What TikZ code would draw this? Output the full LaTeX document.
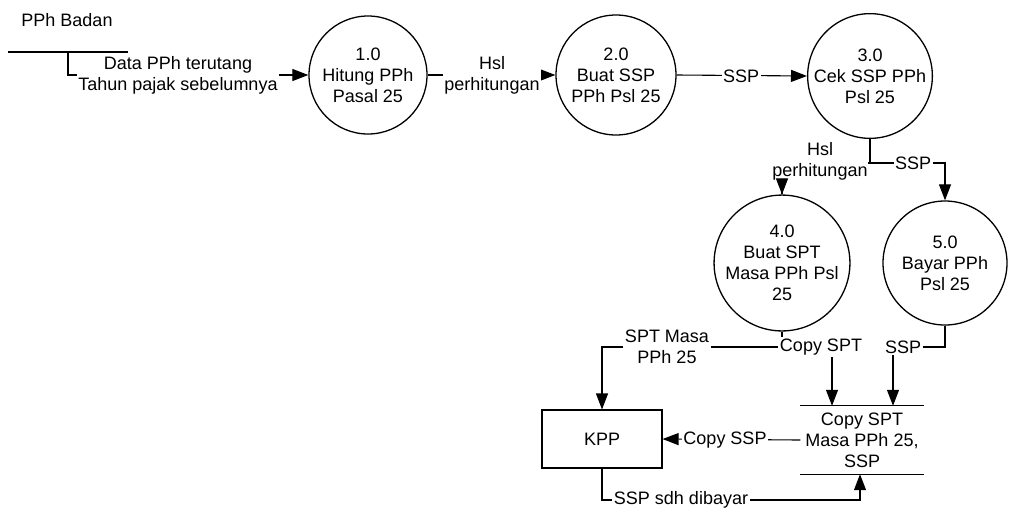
\documentclass[tikz,border=0pt]{standalone}
\usepackage{fontspec}
\setmainfont{Liberation Sans}
\usetikzlibrary{arrows.meta}
\tikzset{
  txt/.style={font=\fontsize{18}{21}\selectfont, align=center, inner sep=1pt},
  proc/.style={txt, draw, circle, line width=1.3pt, inner sep=0pt},
  lbl/.style={txt, fill=white, inner sep=1.5pt},
  ln/.style={line width=1.1pt},
  arr/.style={ln, -{Triangle[length=16pt,width=12pt]}},
  boxent/.style={txt, draw, line width=1.1pt, minimum width=120pt, minimum height=58pt},
  storebox/.style={txt, minimum width=123pt, minimum height=68pt}
}
\begin{document}
\begin{tikzpicture}[x=1pt,y=-1pt]
\useasboundingbox (0,0) rectangle (1011,507);

% external entity
\node[txt] (badan) at (67,20) {PPh Badan};
\coordinate (entl) at (8,52);
\coordinate (entr) at (128,52);
\draw[ln] (entl) -- (entr);
\coordinate (ent) at (68,52);

% processes
\node[proc, minimum size=118pt] (c1) at (368,75) {1.0\\Hitung PPh\\Pasal 25};
\node[proc, minimum size=120pt] (c2) at (616,75) {2.0\\Buat SSP\\PPh Psl 25};
\node[proc, minimum size=122pt] (c3) at (870,76) {3.0\\Cek SSP PPh\\Psl 25};
\node[proc, minimum size=118pt] (c4) at (782,263) {4.0\\Buat SPT\\Masa PPh Psl\\25};
\node[proc, minimum size=124pt] (c5) at (945,263) {5.0\\Bayar PPh\\Psl 25};

% KPP and data store
\node[boxent] (kpp) at (602,439) {KPP};
\node[storebox] (store) at (862,440) {Copy SPT\\Masa PPh 25,\\SSP};
\draw[ln] (store.north west) -- (store.north east);
\draw[ln] (store.south west) -- (store.south east);

% flows
\draw[arr] (ent) |- (c1.west);
\node[lbl] (l1) at (178,75) {Data PPh terutang\\Tahun pajak sebelumnya};

\draw[arr] (c1.east) -- (c2.west);
\node[lbl] (l2) at (492,75) {Hsl\\perhitungan};

\draw[arr] (c2.east) -- (c3.west);
\node[lbl] (l3) at (741,76) {SSP};

\coordinate (j3) at (870,163);
\draw[ln] (c3.south) -- (j3) -- (c4.north |- j3) -- (c4.north);
\node[lbl, inner sep=0.5pt] (l4) at (820,161) {Hsl\\perhitungan};
\draw[arr] (c4.north |- l4.south) -- (c4.north);
\draw[arr] (j3) -- (c5.north |- j3) -- (c5.north);
\node[lbl] (l5) at (913,163) {SSP};

\coordinate (j4) at (782,347);
\draw[arr] (c4.south) -- (j4) -- (kpp.north |- j4) -- (kpp.north);
\node[lbl] (l6) at (667,347) {SPT Masa\\PPh 25};

\coordinate (cs) at (832,347);
\draw[arr] (j4) -- (cs) -- (cs |- store.north);
\node[lbl] (l7) at (821,347) {Copy SPT};

\coordinate (s5) at (893,347);
\draw[arr] (c5.south) -- (c5.south |- s5) -- (s5) -- (s5 |- store.north);
\node[lbl] (l8) at (903,347) {SSP};

\draw[arr] (store.west) -- (kpp.east);
\node[lbl] (l9) at (725,440) {Copy SSP};

\coordinate (kb) at (860,500);
\draw[arr] (kpp.south) |- (kb) -- (kb |- store.south);
\node[lbl] (l10) at (681,500) {SSP sdh dibayar};
\end{tikzpicture}
\end{document}
